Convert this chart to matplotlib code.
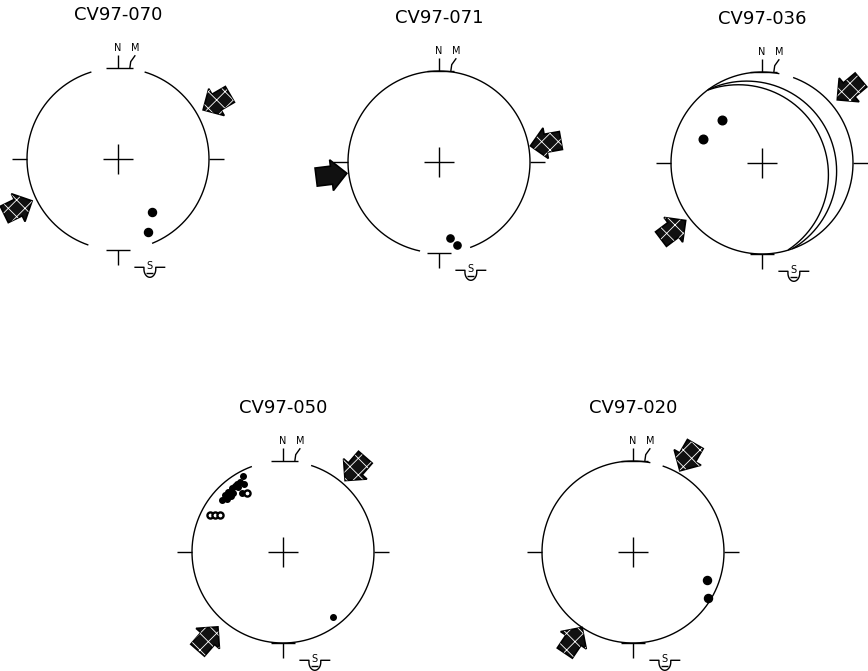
import numpy as np
import matplotlib.pyplot as plt
from matplotlib.patches import Polygon

plt.rcParams['hatch.linewidth'] = 0.6

# site names
sites = ["CV97-070", "CV97-071", "CV97-036", "CV97-050", "CV97-020"]

# poles (east, north) in units of the primitive radius, equal-area net
poles_070 = [(0.37, -0.58), (0.33, -0.80)]
poles_071 = [(0.12, -0.84), (0.20, -0.91)]
poles_036 = [(-0.44, 0.47), (-0.65, 0.26)]
poles_050 = [(-0.44, 0.83), (-0.47, 0.77), (-0.51, 0.75), (-0.53, 0.72),
             (-0.56, 0.70), (-0.60, 0.66), (-0.64, 0.63), (-0.67, 0.57),
             (-0.61, 0.58), (-0.55, 0.65), (-0.49, 0.71), (-0.43, 0.75),
             (-0.45, 0.65), (-0.57, 0.61), (0.55, -0.71)]
poles_020 = [(0.81, -0.31), (0.82, -0.51)]
open_050 = [(-0.40, 0.65), (-0.80, 0.41), (-0.75, 0.41), (-0.69, 0.41)]

# compression arrows: azimuth (deg) and distance from centre
arrows_070 = [(60, 1.25), (244, 1.22)]
arrows_071 = [(80, 1.19), (263, 1.19)]
arrows_036 = [(50, 1.25), (233, 1.22)]
arrows_050 = [(41, 1.21), (221, 1.26)]
arrows_020 = [(30, 1.20), (214, 1.17)]

# small circles for CV97-036 (projected centre x, y and radius)
circ_x_036 = [-0.17, -0.26]
circ_y_036 = [-0.09, -0.13]
circ_r_036 = [0.99, 0.99]

W, H = 868, 671
R = 91  # primitive radius in pixels
L = 1.75

panels = [
    dict(name=sites[0], c=(118, 159), poles=poles_070, arrows=arrows_070, ms=5.8,
         gaps=[(343, 17), (158, 199)], solid=[]),
    dict(name=sites[1], c=(439, 162), poles=poles_071, arrows=arrows_071, ms=5.2,
         gaps=[(160, 192)], solid=[1]),
    dict(name=sites[2], c=(762, 163), poles=poles_036, arrows=arrows_036, ms=6.2,
         gaps=[(11, 20)], solid=[]),
    dict(name=sites[3], c=(283, 552), poles=poles_050, arrows=arrows_050, ms=4.0,
         gaps=[(340, 18)], solid=[]),
    dict(name=sites[4], c=(633, 552), poles=poles_020, arrows=arrows_020, ms=5.8,
         gaps=[(11, 19)], solid=[]),
]


def small_circle(x0, y0, r):
    t = np.linspace(0, 2 * np.pi, 721)
    x, y = x0 + r * np.cos(t), y0 + r * np.sin(t)
    out = x ** 2 + y ** 2 > 1.0
    x[out] = np.nan
    y[out] = np.nan
    return x, y


def draw_arrow(ax, az, dist, solid=False):
    # block arrow pointing towards the centre
    a = np.radians(az)
    ux, uy = -np.sin(a), -np.cos(a)      # direction to centre
    px, py = -uy, ux
    ln, hl, hw, sw = 0.34, 0.17, 0.17, 0.10
    cx, cy = dist * np.sin(a), dist * np.cos(a)
    local = [(ln / 2, 0), (ln / 2 - hl, hw), (ln / 2 - hl, sw), (-ln / 2, sw),
             (-ln / 2, -sw), (ln / 2 - hl, -sw), (ln / 2 - hl, -hw)]
    pts = [(cx + u * ux + v * px, cy + u * uy + v * py) for u, v in local]
    ax.add_patch(Polygon(pts, closed=True, facecolor='#111111', edgecolor='black',
                         lw=1.2, clip_on=False, zorder=3))
    if not solid:
        ax.add_patch(Polygon(pts, closed=True, facecolor='none', edgecolor='white',
                             lw=0, hatch='xx', clip_on=False, zorder=4))


fig = plt.figure(figsize=(W / 100, H / 100), dpi=100)

for p in panels:
    cx, cy = p['c']
    ax = fig.add_axes([(cx - L * R) / W, (H - cy - L * R) / H, 2 * L * R / W, 2 * L * R / H])
    ax.set_xlim(-L, L)
    ax.set_ylim(-L, L)
    ax.axis('off')
    k = dict(color='black', lw=1.0, clip_on=False, solid_capstyle='butt')

    # primitive circle with gaps
    deg = np.arange(0, 360.25, 0.25)
    x, y = np.sin(np.radians(deg)), np.cos(np.radians(deg))
    for a, b in p['gaps']:
        m = (deg > a) & (deg < b) if a < b else (deg > a) | (deg < b)
        x[m] = np.nan
        y[m] = np.nan
    ax.plot(x, y, **k)

    # centre cross and ticks
    ax.plot([-0.17, 0.17], [0, 0], **k)
    ax.plot([0, 0], [-0.17, 0.17], **k)
    ax.plot([-1.17, -1.0], [0, 0], **k)
    ax.plot([1.0, 1.17], [0, 0], **k)

    # N / M marks
    ax.plot([-0.13, 0.17], [1.0, 1.0], **k)
    ax.plot([0, 0], [1.0, 1.14], **k)
    ax.plot([0.13, 0.14, 0.19], [1.0, 1.07, 1.14], **k)
    ax.text(0, 1.22, "N", fontsize=7, ha='center', va='center')
    ax.text(0.19, 1.22, "M", fontsize=7, ha='center', va='center')

    # bottom T and S symbol
    ax.plot([-0.13, 0.13], [-1.0, -1.0], **k)
    ax.plot([0, 0], [-1.0, -1.17], **k)
    sx, sy = 0.35, -1.19
    t = np.linspace(np.pi, 2 * np.pi, 30)
    ux = np.concatenate([[sx - 0.17, sx - 0.065], sx + 0.065 * np.cos(t), [sx + 0.065, sx + 0.17]])
    uy = np.concatenate([[sy, sy], sy - 0.02 + 0.09 * np.sin(t), [sy, sy]])
    ax.plot(ux, uy, **k)
    ax.plot([sx - 0.04, sx + 0.04], [sy - 0.06, sy - 0.06], **k)
    ax.text(sx, sy + 0.01, "S", fontsize=7, ha='center', va='center')

    ax.text(0, 1.58, p['name'], fontsize=13, ha='center', va='center')

    if p['name'] == "CV97-036":
        for x0, y0, r0 in zip(circ_x_036, circ_y_036, circ_r_036):
            gx, gy = small_circle(x0, y0, r0)
            ax.plot(gx, gy, **k)

    for i, (az, dist) in enumerate(p['arrows']):
        draw_arrow(ax, az, dist, solid=i in p['solid'])

    px = [q[0] for q in p['poles']]
    py = [q[1] for q in p['poles']]
    ax.plot(px, py, 'o', color='black', ms=p['ms'], clip_on=False, zorder=5)
    if p['name'] == "CV97-050":
        ox = [q[0] for q in open_050]
        oy = [q[1] for q in open_050]
        ax.plot(ox, oy, 'o', mfc='white', mec='black', mew=1.7, ms=4.4,
                clip_on=False, zorder=6)

fig.savefig("out.png", dpi=100)
